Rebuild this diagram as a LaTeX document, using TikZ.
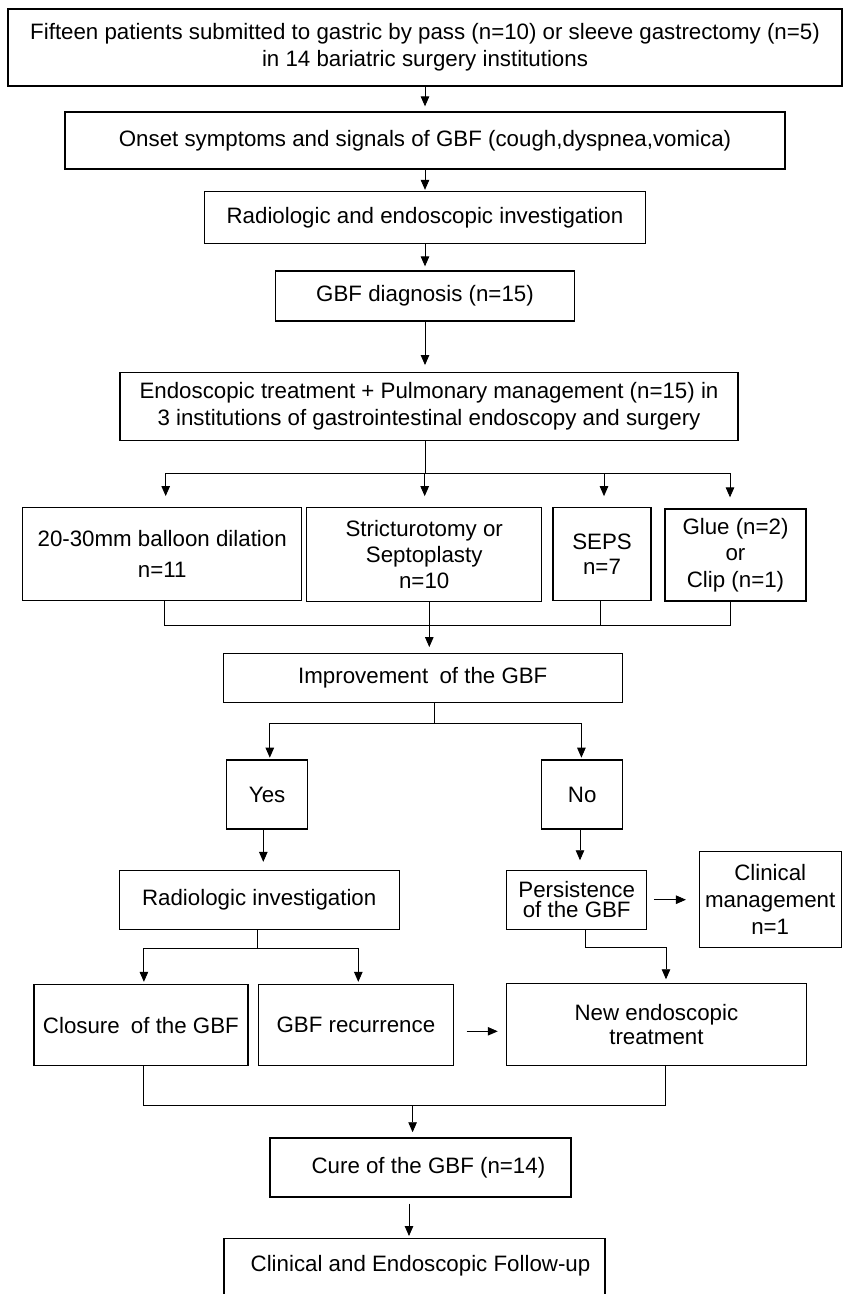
\documentclass[tikz,border=0pt]{standalone}
\usepackage{fontspec}
\setmainfont{Liberation Sans}
\usetikzlibrary{arrows.meta,calc}
\begin{document}
\begin{tikzpicture}[x=1pt,y=-1pt,
  box/.style={draw, line width=1.3pt, inner sep=0pt, align=center, font=\fontsize{22.3}{27}\selectfont},
  wh/.style 2 args={minimum width=#1pt, minimum height=#2pt},
  ln/.style={line width=0.9pt},
  arr/.style={ln, -{Triangle[length=10pt,width=8.5pt]}}]
\fill[white] (0,0) rectangle (851,1294);
\useasboundingbox (0,0) rectangle (851,1294);

\node[box, wh={834}{77}] (n1) at (425,47.5) {Fifteen patients submitted to gastric by pass (n=10) or sleeve gastrectomy (n=5)\\in 14 bariatric surgery institutions};
\node[box, wh={720}{57}] (n2) at (425,140.5) {Onset symptoms and signals of GBF (cough,dyspnea,vomica)};
\node[box, wh={441}{52}] (n3) at (425,217.5) {Radiologic and endoscopic investigation};
\node[box, wh={299}{50}] (n4) at (425,296) {GBF diagnosis (n=15)};
\node[box, wh={618}{68}] (n5) at (429,406.7) {Endoscopic treatment + Pulmonary management (n=15) in\\3 institutions of gastrointestinal endoscopy and surgery};
\node[box, wh={279}{93}] (b1) at (162.2,554.2) {20-30mm balloon dilation\\[3.6pt]n=11};
\node[box, wh={235}{94}, font=\fontsize{22.3}{26}\selectfont] (b2) at (424.2,554.8) {Stricturotomy or\\Septoplasty\\n=10};
\node[box, wh={98}{93}, font=\fontsize{22.3}{25}\selectfont] (b3) at (602,554.3) {SEPS\\n=7};
\node[box, wh={141}{92}, font=\fontsize{22.3}{26.5}\selectfont] (b4) at (735.5,555) {Glue (n=2)\\or\\Clip (n=1)};
\node[box, wh={399}{49}] (imp) at (422.8,677.8) {Improvement\hspace{5pt} of the GBF};
\node[box, wh={81}{69}] (yes) at (267.1,794.5) {Yes};
\node[box, wh={81}{69}] (no) at (582.2,794.5) {No};
\node[box, wh={280}{59}] (ri) at (259.2,899.7) {Radiologic investigation};
\node[box, wh={140}{59}, font=\fontsize{22.3}{20.5}\selectfont] (pers) at (576.7,899.7) {Persistence\\of the GBF};
\node[box, wh={142}{96}, font=\fontsize{22.3}{27}\selectfont] (cm) at (770.2,899.2) {Clinical\\management\\n=1};
\node[box, wh={214}{81}] (clo) at (140.9,1025.3) {Closure\hspace{5pt} of the GBF};
\node[box, wh={195}{81}] (rec) at (355.9,1025.3) {GBF recurrence};
\node[box, wh={300}{82}, font=\fontsize{22.3}{24}\selectfont] (net) at (656.4,1024.2) {New endoscopic\\treatment};
\node[box, wh={301}{59}] (cure) at (420.4,1167.4) {\hspace*{16pt}Cure of the GBF (n=14)};
\node[box, minimum width=381pt, text height=33pt, text depth=40pt, anchor=north] (fu) at (414.5,1238) {\hspace*{12pt}Clinical and Endoscopic Follow-up};

% top chain
\draw[arr, shorten >=5pt] (n1.south) -- (n2.north);
\draw[arr, shorten >=1pt] (n2.south) -- (n3.north);
\draw[arr, shorten >=4pt] (n3.south) -- (n4.north);
\draw[arr, shorten >=7pt] (n4.south) -- (n4.south |- n5.north);

% fan out to treatments
\draw[ln] (n5.south -| n4.south) -- ++(0,32) coordinate (f1);
\draw[ln] ([xshift=3.5pt]b1.north |- f1) -- ([xshift=-5.5pt]b4.north |- f1);
\draw[arr, shorten >=11pt] ([xshift=3.5pt]b1.north |- f1) -- ([xshift=3.5pt]b1.north);
\draw[arr, shorten >=11pt] ([xshift=0.5pt]b2.north |- f1) -- ([xshift=0.5pt]b2.north);
\draw[arr, shorten >=11pt] ([xshift=2pt]b3.north |- f1) -- ([xshift=2pt]b3.north);
\draw[arr, shorten >=11pt] ([xshift=-5.5pt]b4.north |- f1) -- ([xshift=-5.5pt]b4.north);

% merge to improvement
\coordinate (m1) at ($(b2.south)+(0,23.3)$);
\draw[ln] ([xshift=1.8pt]b1.south) -- ([xshift=1.8pt]b1.south |- m1) -- ([xshift=-5.5pt]b4.south |- m1) -- ([xshift=-5.5pt]b4.south);
\draw[ln] ([xshift=-1.7pt]b3.south) -- ([xshift=-1.7pt]b3.south |- m1);
\draw[arr, shorten >=5.6pt] ([xshift=5.1pt]b2.south) -- ([xshift=5.1pt]b2.south |- imp.north);

% improvement -> yes / no
\draw[ln] ([xshift=11.5pt]imp.south) -- ++(0,20.4) coordinate (s2);
\draw[arr, shorten >=1.7pt] (s2) -| ([xshift=2.7pt]yes.north);
\draw[arr, shorten >=1.7pt] (s2) -| ([xshift=-0.8pt]no.north);

\draw[arr, shorten >=7.7pt] ([xshift=-3.8pt]yes.south) -- ([xshift=-3.8pt]yes.south |- ri.north);
\draw[arr, shorten >=9.3pt] ([xshift=-2.2pt]no.south) -- ([xshift=-2.2pt]no.south |- pers.north);

% radiologic investigation -> closure / recurrence
\draw[ln] ([xshift=-1.3pt]ri.south) -- ++(0,18.4) coordinate (s3);
\draw[arr, shorten >=2.3pt] (s3) -| ([xshift=3pt]clo.north);
\draw[arr, shorten >=2.3pt] (s3) -| ([xshift=2.4pt]rec.north);

% persistence -> new treatment / clinical management
\draw[arr, shorten >=3.3pt] ([xshift=8.3pt]pers.south) -- ++(0,18) -| ([xshift=9.6pt]net.north);
\draw[arr, shorten <=6.6pt, shorten >=12.6pt] (pers.east) -- (pers.east -| cm.west);

% recurrence -> new treatment
\draw[arr, shorten <=12.5pt, shorten >=8pt] ([yshift=-6pt]rec.east) -- ([yshift=-6pt]rec.east -| net.west);

% closure / new treatment -> cure
\draw[ln] ([xshift=3pt]clo.south) -- ++(0,38.6) coordinate (s4) -| ([xshift=8.6pt]net.south);
\draw[arr, shorten >=5pt] ([xshift=-7.8pt]cure.north |- s4) -- ([xshift=-7.8pt]cure.north);

% cure -> follow-up
\draw[arr, shorten <=6pt, shorten >=2pt] ([xshift=-11.4pt]cure.south) -- ([xshift=-11.4pt]cure.south |- fu.north);
\end{tikzpicture}
\end{document}
